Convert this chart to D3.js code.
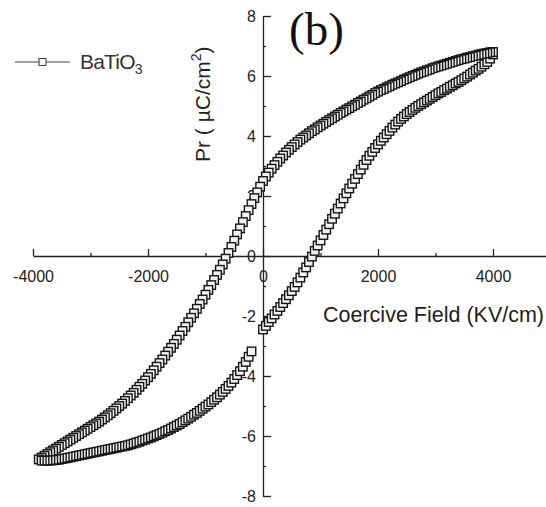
<!DOCTYPE html>
<html>
<head>
<meta charset="utf-8">
<script src="https://cdn.jsdelivr.net/npm/d3@7"></script>
<style>
  body { margin: 0; background: #fff; }
  svg { display: block; font-family: "Liberation Sans", Arial, sans-serif; }
  .tick text { font-size: 16px; fill: #222; }
  .axis path, .axis line { stroke: #222; stroke-width: 1.3; }
</style>
</head>
<body>
<div id="chart"></div>
<script>
const risingE = [0, 50, 100, 150, 200, 250, 300, 350, 400, 450, 500, 550, 600, 650, 700, 750, 800, 850, 900, 950,
  1000, 1050, 1100, 1150, 1200, 1250, 1300, 1350, 1400, 1450, 1500, 1550, 1600, 1650, 1700, 1750, 1800, 1850, 1900, 1950,
  2000, 2050, 2100, 2150, 2200, 2250, 2300, 2350, 2400, 2450, 2500, 2550, 2600, 2650, 2700, 2750, 2800, 2850, 2900, 2950,
  3000, 3050, 3100, 3150, 3200, 3250, 3300, 3350, 3400, 3450, 3500, 3550, 3600, 3650, 3700, 3750, 3800, 3850, 3900, 3950,
  4000];
const risingP = [-2.45, -2.33, -2.20, -2.08, -1.95, -1.83, -1.70, -1.57, -1.44, -1.31, -1.17, -1.03, -0.88, -0.72, -0.55, -0.38, -0.20, -0.02, 0.17, 0.35,
  0.52, 0.70, 0.88, 1.06, 1.24, 1.41, 1.58, 1.75, 1.92, 2.09, 2.25, 2.41, 2.57, 2.73, 2.88, 3.04, 3.20, 3.34, 3.47, 3.60,
  3.72, 3.84, 3.95, 4.06, 4.17, 4.28, 4.38, 4.48, 4.57, 4.65, 4.73, 4.80, 4.87, 4.94, 5.00, 5.06, 5.12, 5.18, 5.24, 5.30,
  5.36, 5.42, 5.47, 5.53, 5.58, 5.64, 5.69, 5.75, 5.80, 5.86, 5.92, 5.98, 6.05, 6.11, 6.18, 6.24, 6.31, 6.39, 6.47, 6.58,
  6.72];

const fallingE = [4000, 3950, 3900, 3850, 3800, 3750, 3700, 3650, 3600, 3550, 3500, 3450, 3400, 3350, 3300, 3250, 3200, 3150, 3100, 3050,
  3000, 2950, 2900, 2850, 2800, 2750, 2700, 2650, 2600, 2550, 2500, 2450, 2400, 2350, 2300, 2250, 2200, 2150, 2100, 2050,
  2000, 1950, 1900, 1850, 1800, 1750, 1700, 1650, 1600, 1550, 1500, 1450, 1400, 1350, 1300, 1250, 1200, 1150, 1100, 1050,
  1000, 950, 900, 850, 800, 750, 700, 650, 600, 550, 500, 450, 400, 350, 300, 250, 200, 150, 100, 50,
  0, -50, -100, -150, -200, -250, -300, -350, -400, -450, -500, -550, -600, -650, -700, -750, -800, -850, -900, -950,
  -1000, -1050, -1100, -1150, -1200, -1250, -1300, -1350, -1400, -1450, -1500, -1550, -1600, -1650, -1700, -1750, -1800, -1850, -1900, -1950,
  -2000, -2050, -2100, -2150, -2200, -2250, -2300, -2350, -2400, -2450, -2500, -2550, -2600, -2650, -2700, -2750, -2800, -2850, -2900, -2950,
  -3000, -3050, -3100, -3150, -3200, -3250, -3300, -3350, -3400, -3450, -3500, -3550, -3600, -3650, -3700, -3750, -3800, -3850, -3900];
const fallingP = [6.80, 6.79, 6.77, 6.75, 6.73, 6.71, 6.68, 6.66, 6.63, 6.61, 6.58, 6.56, 6.53, 6.50, 6.47, 6.44, 6.41, 6.38, 6.35, 6.32,
  6.29, 6.26, 6.22, 6.19, 6.15, 6.12, 6.08, 6.04, 6.00, 5.96, 5.92, 5.88, 5.83, 5.79, 5.75, 5.71, 5.66, 5.62, 5.57, 5.53,
  5.48, 5.43, 5.37, 5.32, 5.26, 5.21, 5.15, 5.10, 5.04, 4.99, 4.93, 4.88, 4.82, 4.77, 4.71, 4.65, 4.59, 4.53, 4.47, 4.41,
  4.35, 4.29, 4.22, 4.16, 4.09, 4.02, 3.95, 3.88, 3.80, 3.72, 3.63, 3.54, 3.45, 3.35, 3.25, 3.14, 3.03, 2.91, 2.78, 2.65,
  2.50, 2.31, 2.12, 1.93, 1.73, 1.53, 1.33, 1.13, 0.92, 0.72, 0.51, 0.30, 0.10, -0.09, -0.28, -0.46, -0.63, -0.80, -0.97, -1.13,
  -1.29, -1.45, -1.60, -1.76, -1.91, -2.06, -2.21, -2.36, -2.50, -2.65, -2.79, -2.93, -3.06, -3.19, -3.32, -3.45, -3.57, -3.69, -3.81, -3.93,
  -4.04, -4.15, -4.26, -4.36, -4.46, -4.56, -4.65, -4.74, -4.83, -4.92, -5.00, -5.08, -5.16, -5.24, -5.31, -5.38, -5.45, -5.52, -5.58, -5.64,
  -5.70, -5.76, -5.82, -5.88, -5.94, -6.00, -6.06, -6.12, -6.18, -6.24, -6.30, -6.36, -6.42, -6.48, -6.54, -6.60, -6.66, -6.72, -6.78];

const returnE = [-3850, -3800, -3750, -3700, -3650, -3600, -3550, -3500, -3450, -3400, -3350, -3300, -3250, -3200, -3150, -3100, -3050, -3000, -2950, -2900,
  -2850, -2800, -2750, -2700, -2650, -2600, -2550, -2500, -2450, -2400, -2350, -2300, -2250, -2200, -2150, -2100, -2050, -2000, -1950, -1900,
  -1850, -1800, -1750, -1700, -1650, -1600, -1550, -1500, -1450, -1400, -1350, -1300, -1250, -1200, -1150, -1100, -1050, -1000, -950, -900,
  -850, -800, -750, -700, -650, -600, -550, -500, -450, -400, -350, -300, -250, -200];
const returnP = [-6.82, -6.82, -6.82, -6.82, -6.81, -6.80, -6.79, -6.77, -6.75, -6.73, -6.71, -6.69, -6.67, -6.65, -6.63, -6.61, -6.59, -6.57, -6.55, -6.53,
  -6.51, -6.49, -6.47, -6.45, -6.43, -6.41, -6.39, -6.37, -6.35, -6.33, -6.31, -6.28, -6.25, -6.22, -6.19, -6.15, -6.12, -6.08, -6.05, -6.01,
  -5.97, -5.93, -5.89, -5.84, -5.80, -5.75, -5.70, -5.65, -5.60, -5.54, -5.48, -5.42, -5.36, -5.29, -5.23, -5.16, -5.09, -5.02, -4.95, -4.87,
  -4.79, -4.71, -4.62, -4.53, -4.43, -4.33, -4.22, -4.10, -3.97, -3.84, -3.69, -3.53, -3.36, -3.18];

const xMajor = [-4000, -2000, 0, 2000, 4000];
const xMinor = [-3000, -1000, 1000, 3000];
const yMajor = [-8, -6, -4, -2, 0, 2, 4, 6, 8];
const yMinor = [-7, -5, -3, -1, 1, 3, 5, 7];

const width = 546;
const height = 507;

const svg = d3.select('#chart')
    .append('svg')
    .attr('width', width)
    .attr('height', height);

const x = d3.scaleLinear().domain([-4000, 5000]).range([33, 550.5]);
const y = d3.scaleLinear().domain([-8, 8]).range([496, 16]);

const plain = d => String(d); // hyphen minus, as in the original

// x axis through P = 0, ticks pointing up
svg.append('g')
    .attr('class', 'axis')
    .attr('transform', `translate(0,${y(0)})`)
    .call(d3.axisBottom(x).tickValues(xMajor).tickSize(-7).tickSizeOuter(0).tickPadding(15).tickFormat(plain));
svg.append('g')
    .attr('class', 'axis')
    .attr('transform', `translate(0,${y(0)})`)
    .call(d3.axisBottom(x).tickValues(xMinor).tickSize(-3).tickSizeOuter(0).tickFormat(''))
    .select('.domain').remove();

// y axis through E = 0, ticks pointing right
svg.append('g')
    .attr('class', 'axis')
    .attr('transform', `translate(${x(0)},0)`)
    .call(d3.axisLeft(y).tickValues(yMajor).tickSize(-8).tickSizeOuter(0).tickPadding(7).tickFormat(plain));
svg.append('g')
    .attr('class', 'axis')
    .attr('transform', `translate(${x(0)},0)`)
    .call(d3.axisLeft(y).tickValues(yMinor).tickSize(-3).tickSizeOuter(0).tickFormat(''))
    .select('.domain').remove();

svg.selectAll('.domain').attr('stroke-width', 1.6);

// data
const points = [];
risingE.forEach((e, i) => points.push([e, risingP[i]]));
fallingE.forEach((e, i) => points.push([e, fallingP[i]]));
returnE.forEach((e, i) => points.push([e, returnP[i]]));

const line = d3.line().x(d => x(d[0])).y(d => y(d[1]));
svg.append('path')
    .datum(points)
    .attr('d', line)
    .attr('fill', 'none')
    .attr('stroke', '#111')
    .attr('stroke-width', 1);

const s = 8.5;
svg.append('g')
    .selectAll('rect')
    .data(points)
    .join('rect')
    .attr('x', d => x(d[0]) - s / 2)
    .attr('y', d => y(d[1]) - s / 2)
    .attr('width', s)
    .attr('height', s)
    .attr('fill', '#f2f2f2')
    .attr('stroke', '#151515')
    .attr('stroke-width', 1.4);

// axis titles
svg.append('text')
    .attr('x', 323)
    .attr('y', 322)
    .attr('font-size', 21.5)
    .attr('fill', '#222')
    .text('Coercive Field (KV/cm)');

const yt = svg.append('text')
    .attr('transform', 'translate(210,162) rotate(-90)')
    .attr('font-size', 21)
    .attr('fill', '#222');
yt.append('tspan').text('Pr ( \u00b5C/cm');
yt.append('tspan').attr('font-size', 14).attr('dy', -9).text('2');
yt.append('tspan').attr('dy', 9).text(')');

// panel label
svg.append('text')
    .attr('x', 289)
    .attr('y', 45)
    .attr('font-family', '"Liberation Serif", "Times New Roman", serif')
    .attr('font-size', 47)
    .attr('fill', '#111')
    .text('(b)');

// legend
const lg = svg.append('g');
lg.append('line')
    .attr('x1', 15).attr('x2', 70)
    .attr('y1', 62).attr('y2', 62)
    .attr('stroke', '#444').attr('stroke-width', 1.2);
lg.append('rect')
    .attr('x', 39).attr('y', 58.5)
    .attr('width', 7).attr('height', 7)
    .attr('fill', '#fff').attr('stroke', '#444').attr('stroke-width', 1.1);
const lt = lg.append('text')
    .attr('x', 80).attr('y', 69)
    .attr('font-size', 21)
    .attr('fill', '#333')
    .attr('letter-spacing', -0.8);
lt.append('tspan').text('BaTiO');
lt.append('tspan').attr('font-size', 14).attr('dy', 5).text('3');
</script>
</body>
</html>
